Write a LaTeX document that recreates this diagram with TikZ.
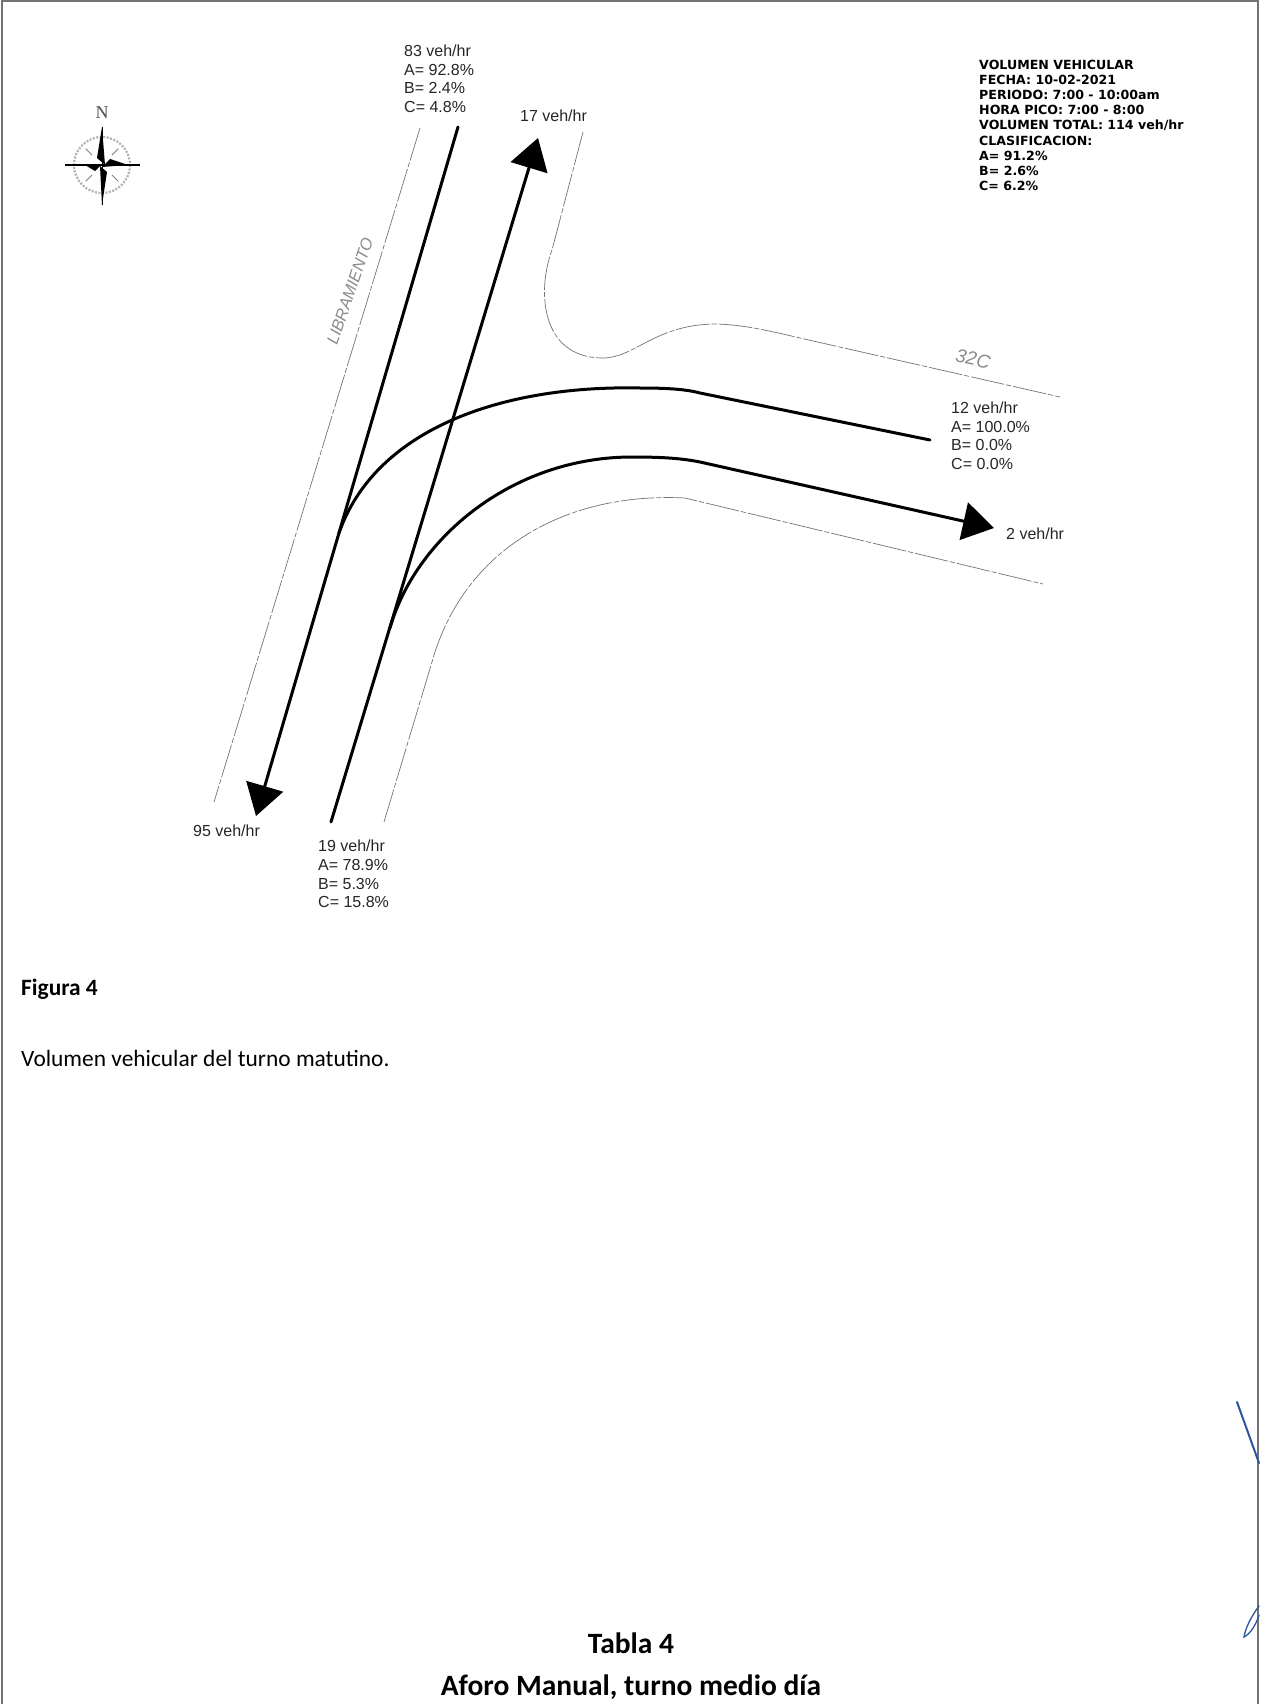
\documentclass[tikz,border=0pt]{standalone}
\usepackage{fontspec}
\setmainfont{Liberation Sans}
\newfontfamily\infofont{DejaVu Sans}
\newfontfamily\captionfont{Carlito}
\newfontfamily\compassfont{Liberation Serif}
\usetikzlibrary{arrows.meta}
\definecolor{penblue}{RGB}{45,85,160}
\tikzset{
    roadedge/.style={draw=black!55, line width=.7pt, dash pattern=on 34pt off 2pt on 5pt off 2pt},
    flow/.style={line width=3pt, line cap=round},
    flowhead/.style={flow, -{Triangle[length=31pt, width=38pt]}},
    countlabel/.style={anchor=north west, inner sep=0pt, align=left, text=black!85, font=\fontsize{16}{18.6}\selectfont},
    streetlabel/.style={inner sep=0pt, text=black!45, font=\itshape\fontsize{16.5}{18}\selectfont},
    infolabel/.style={anchor=north west, inner sep=0pt, align=left, font=\infofont\bfseries\fontsize{12.6}{15.1}\selectfont},
    captionlabel/.style={inner sep=0pt, font=\captionfont\fontsize{23.4}{28}\selectfont},
}
\begin{document}
\begin{tikzpicture}[x=1pt, y=-1pt]
    \useasboundingbox (0,0) rectangle (1260,1704);
    \fill[white] (0,0) rectangle (1260,1704);
    \draw[black!55, line width=1.3pt] (2,1704) -- (2,1) -- (1258,1) -- (1258,1704);

    % road edges
    \draw[roadedge] (420,128) -- (214,802);
    \draw[roadedge] (583,132) -- (552,250)
        .. controls (537,290) and (540,358) .. (603,358)
        .. controls (635,358) and (655,324) .. (717,324)
        .. controls (745,325) and (770,331) .. (800,338)
        -- (1060,397);
    \draw[roadedge] (384,822) -- (435,652)
        .. controls (470,545) and (570,492) .. (685,498)
        -- (1043,584);

    % flows
    \coordinate (north_in) at (458,127);
    \coordinate (south_out) at (256,816);
    \coordinate (south_in) at (331,822);
    \coordinate (north_out) at (538,138);
    \coordinate (east_in) at (930,440);
    \coordinate (east_out) at (994,528);
    \coordinate (merge_a) at (339,533);
    \coordinate (merge_b) at (390,628);
    \draw[flowhead] (north_in) -- (south_out);
    \draw[flowhead] (south_in) -- (north_out);
    \draw[flow] (merge_a) .. controls (375,430) and (500,385) .. (640,388)
        .. controls (665,388) and (685,389) .. (700,393) -- (east_in);
    \draw[flowhead] (merge_b) .. controls (415,540) and (510,458) .. (630,457)
        .. controls (660,457) and (680,458) .. (700,462) -- (east_out);

    % labels
    \node[countlabel] (north_label) at (404,45) {83 veh/hr\\A= 92.8\%\\B= 2.4\%\\C= 4.8\%};
    \node[countlabel] (north_out_label) at (520,110) {17 veh/hr};
    \node[countlabel] (east_label) at (951,402) {12 veh/hr\\A= 100.0\%\\B= 0.0\%\\C= 0.0\%};
    \node[countlabel] (east_out_label) at (1006,528) {2 veh/hr};
    \node[countlabel] (south_out_label) at (193,825) {95 veh/hr};
    \node[countlabel] (south_label) at (318,840) {19 veh/hr\\A= 78.9\%\\B= 5.3\%\\C= 15.8\%};
    \node[streetlabel, rotate=71] (libramiento) at (350,291) {LIBRAMIENTO};
    \node[streetlabel, rotate=-12, font=\itshape\fontsize{19}{20}\selectfont] (street32c) at (973,359) {32C};
    \node[infolabel] (info) at (979,60) {VOLUMEN VEHICULAR\\FECHA: 10-02-2021\\PERIODO: 7:00 - 10:00am\\HORA PICO: 7:00 - 8:00\\VOLUMEN TOTAL: 114 veh/hr\\CLASIFICACION:\\A= 91.2\%\\B= 2.6\%\\C= 6.2\%};

    % north arrow
    \node[inner sep=0pt, text=black!70, font=\compassfont\fontsize{18}{18}\selectfont] (north_mark) at (102,113) {N};
    \draw[black!30, line width=2.2pt, dash pattern=on 2pt off 1.5pt] (102,165) circle (28);
    \foreach \a in {45,135,225,315} {
        \draw[black!50, line width=.9pt] (102,165) ++(\a:14) -- ++(\a:9);
    }
    \draw[black, line width=.9pt] (102,127) -- (102,205);
    \draw[black, line width=1.1pt] (65,165) -- (140,165);
    \fill[black] (102,127) -- (105,165) -- (97,158) -- cycle;
    \fill[black] (102,205) -- (100,166) -- (107,172) -- cycle;
    \fill[black] (128,165) -- (102,167) -- (110,159) -- cycle;
    \fill[black] (85,165) -- (102,164) -- (95,171) -- cycle;

    % caption
    \node[captionlabel, anchor=base west, font=\captionfont\bfseries\fontsize{23.4}{28}\selectfont] (figure_title) at (21,995) {Figura 4};
    \node[captionlabel, anchor=base west] (figure_text) at (21,1066) {Volumen vehicular del turno matutino.};
    \node[captionlabel, anchor=base, font=\captionfont\bfseries\fontsize{29.5}{32}\selectfont] (table_no) at (631,1653) {Tabla 4};
    \node[captionlabel, anchor=base, font=\captionfont\bfseries\fontsize{29.5}{32}\selectfont] (table_title) at (631,1695) {Aforo Manual, turno medio día};

    % pen mark
    \draw[penblue, line width=2pt, line cap=round] (1237,1402) -- (1259,1463);
    \draw[penblue, line width=1.3pt, line cap=round] (1259,1606) .. controls (1250,1618) and (1245,1630) .. (1244,1637)
        .. controls (1250,1634) and (1256,1625) .. (1259,1615);
\end{tikzpicture}
\end{document}
